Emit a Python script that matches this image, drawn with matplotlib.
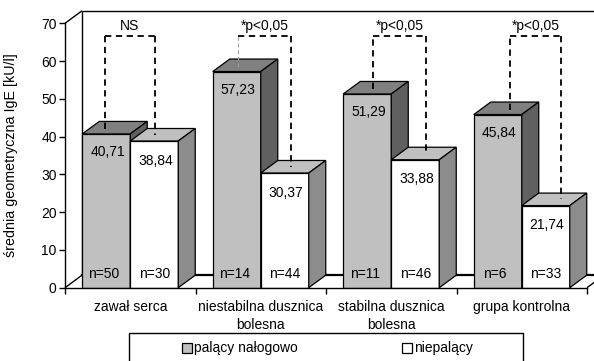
import matplotlib
matplotlib.use("Agg")
import matplotlib.pyplot as plt
from matplotlib.patches import Polygon, Rectangle
import numpy as np

plt.rcParams['font.family'] = ['Liberation Sans', 'DejaVu Sans']

categories = ["zawał serca", "niestabilna dusznica\nbolesna", "stabilna dusznica\nbolesna", "grupa kontrolna"]
smokers = [40.71, 57.23, 51.29, 45.84]
nonsmokers = [38.84, 30.37, 33.88, 21.74]
n_smokers = [50, 14, 11, 6]
n_nonsmokers = [30, 44, 46, 33]
significance = ["NS", "*p<0,05", "*p<0,05", "*p<0,05"]
series_names = ["palący nałogowo", "niepalący"]
y_ticks = [0, 10, 20, 30, 40, 50, 60, 70]
y_label = "średnia geometryczna IgE [kU/l]"

W, H = 594, 361
fig = plt.figure(figsize=(W / 100, H / 100), dpi=100)
ax = fig.add_axes([65 / W, (H - 287.7) / H, 522 / W, 264.4 / H])
ax.set_xlim(-0.5, 3.5)
ax.set_ylim(0, 70)

# depth offsets in data units
px_x = 4.0 / 522.0
px_y = 70.0 / 264.4
DX = 17 * px_x
DY = 12.5 * px_y

# back wall & floor
lk = dict(color='black', lw=1.0, clip_on=False, solid_capstyle='butt', zorder=1)
x0, x1 = -0.5, 3.5
ax.plot([x0 + DX, x0 + DX], [DY, 70 + DY], **lk)
ax.plot([x0 + DX, x1 + DX + 1], [70 + DY, 70 + DY], **lk)
ax.plot([x0, x0 + DX], [70, 70 + DY], **lk)
ax.plot([x0, x0 + DX], [0, DY], **lk)
ax.plot([x0 + DX, x1 + DX + 1], [DY, DY], color='black', lw=1.6, clip_on=False, zorder=1)
ax.plot([x1, x1 + DX], [0, DY], **lk)

gray_front, gray_top, gray_side = '#c0c0c0', '#808080', '#606060'
white_front, white_top, white_side = '#ffffff', '#c0c0c0', '#8c8c8c'
bw = 48 / 130.5


def bar3d(xl, v, front, top, side):
    xr = xl + bw
    ax.bar(xl, v, width=bw, align='edge', color=front, edgecolor='black', lw=0.9, zorder=3)
    ax.add_patch(Polygon([(xl, v), (xr, v), (xr + DX, v + DY), (xl + DX, v + DY)],
                         closed=True, facecolor=top, edgecolor='black', lw=0.9, zorder=3, clip_on=False))
    ax.add_patch(Polygon([(xr, 0), (xr + DX, DY), (xr + DX, v + DY), (xr, v)],
                         closed=True, facecolor=side, edgecolor='black', lw=0.9, zorder=3, clip_on=False))


fs = 10
bracket_shift = [(-0.01, 0.006), (0.007, 0.048), (0.044, 0.082), (0.094, 0.117)]
bracket_top = 66.6
for i in range(len(categories)):
    bar3d(i - bw, smokers[i], gray_front, gray_top, gray_side)
    bar3d(i, nonsmokers[i], white_front, white_top, white_side)
    cg, cw = i - bw / 2, i + bw / 2
    ax.text(cg + 0.01, smokers[i] - 4.8, f"{smokers[i]:.2f}".replace('.', ','), ha='center', va='center', fontsize=fs, zorder=5)
    ax.text(cw + 0.01, nonsmokers[i] - 5.2, f"{nonsmokers[i]:.2f}".replace('.', ','), ha='center', va='center', fontsize=fs, zorder=5)
    ax.text(cg - 0.02, 3.6, f"n={n_smokers[i]}", ha='center', va='center', fontsize=fs, zorder=5)
    ax.text(cw, 3.6, f"n={n_nonsmokers[i]}", ha='center', va='center', fontsize=fs, zorder=5)
    # significance bracket
    bl = cg + bracket_shift[i][0]
    br = cw + bracket_shift[i][1]
    dk = dict(color='black', lw=1.3, ls=(0, (3.5, 2.5)), zorder=6, clip_on=False)
    left_style = dict(dk)
    if i == 1:
        left_style.update(color='#a0a0a0', lw=0.8)
    ax.plot([bl, bl], [smokers[i] + DY * 0.4, bracket_top], **left_style)
    ax.plot([bl, br], [bracket_top, bracket_top], **dk)
    ax.plot([br, br], [bracket_top, nonsmokers[i] + DY * 0.5], **dk)
    ax.text((bl + br) / 2, 69.3, significance[i], ha='center', va='center', fontsize=fs, zorder=6)

for s in ['top', 'right']:
    ax.spines[s].set_visible(False)
for s in ['left', 'bottom']:
    ax.spines[s].set_linewidth(1.0)
    ax.spines[s].set_zorder(4)

ax.set_yticks(y_ticks)
ax.set_yticklabels([str(t) for t in y_ticks], fontsize=10)
ax.tick_params(axis='y', direction='out', length=4, width=1, pad=2)
ax.set_xticks([-0.5, 0.5, 1.5, 2.5, 3.5])
ax.set_xticklabels([])
ax.tick_params(axis='x', which='major', direction='out', length=4, width=1)
ax.set_xticks(range(len(categories)), minor=True)
ax.set_xticklabels(categories, minor=True, fontsize=fs, linespacing=1.38)
ax.tick_params(axis='x', which='minor', length=0, pad=9)
ax.set_ylabel(y_label, fontsize=10.3, labelpad=8)
ax.yaxis.set_label_coords(-47 / 522, 0.5)
ax.patch.set_alpha(0)

# legend box
fig.patches.append(Rectangle((129 / W, -0.05), (523 - 129) / W, (H - 333) / H + 0.05,
                             transform=fig.transFigure, facecolor='white', edgecolor='black', lw=1.0))
leg_x = [182, 402]
fcs = [gray_front, white_front]
for k in range(2):
    fig.patches.append(Rectangle((leg_x[k] / W, (H - 353) / H), 10 / W, 10 / H,
                                 transform=fig.transFigure, facecolor=fcs[k], edgecolor='black', lw=0.9))
    fig.text((leg_x[k] + 12) / W, (H - 348) / H, series_names[k], ha='left', va='center', fontsize=fs)

fig.savefig("out.png", dpi=100)
